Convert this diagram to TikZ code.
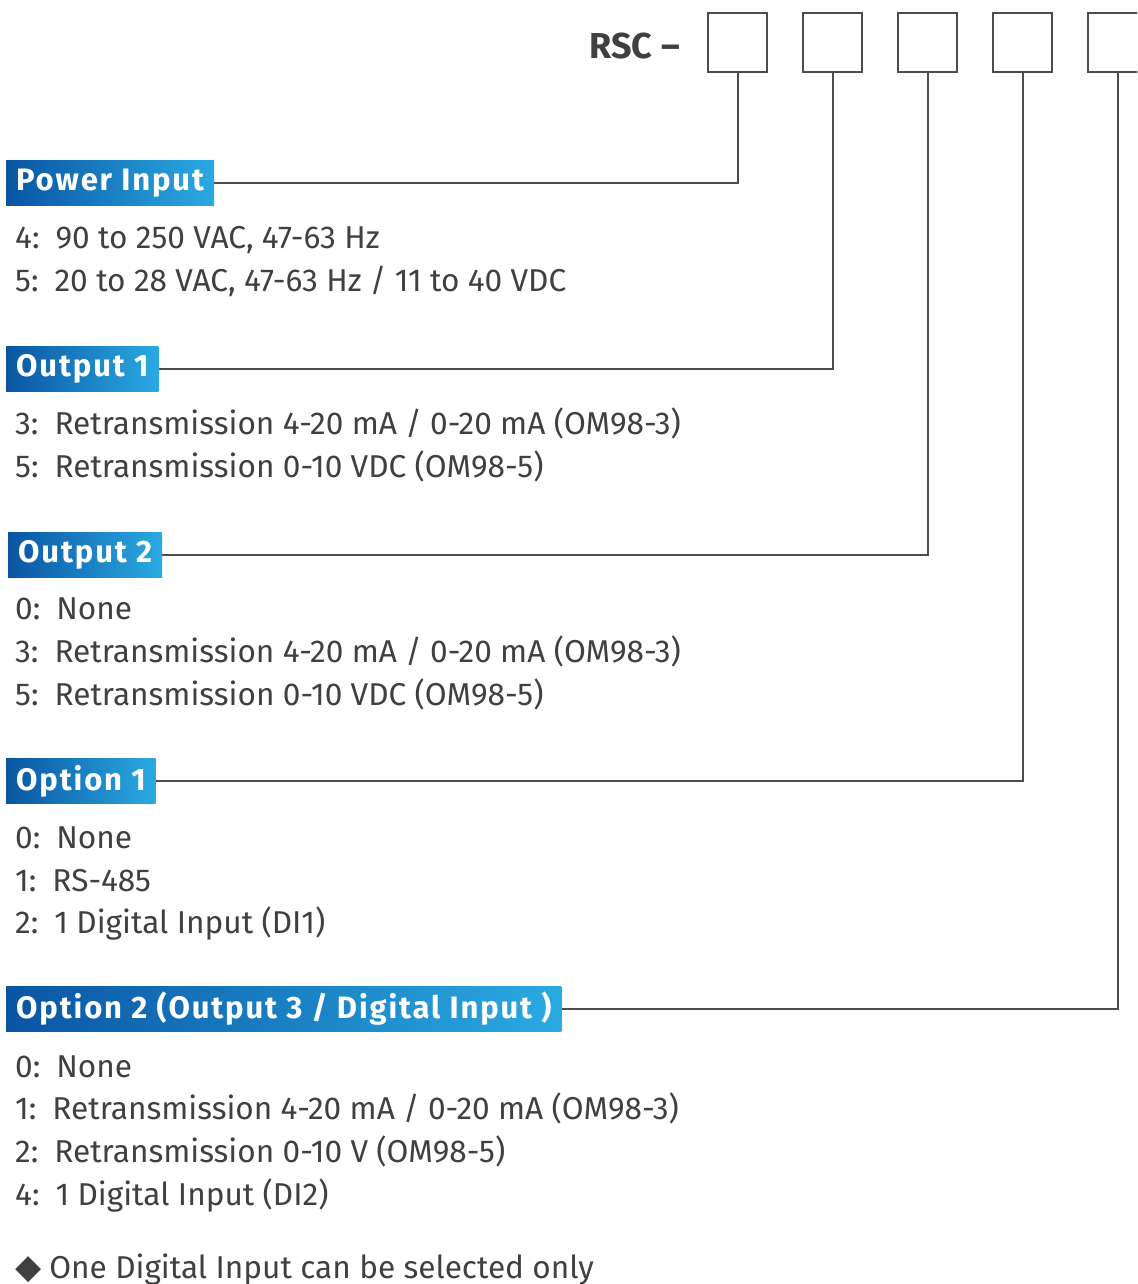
\documentclass[tikz,border=0pt]{standalone}
\usepackage{fontspec}
\setmainfont{Fira Sans}
\newfontfamily\symfont{DejaVu Sans}
\newfontfamily\hdrfont[LetterSpace=6]{Fira Sans}
\usetikzlibrary{positioning}

\definecolor{txtgray}{HTML}{404040}
\definecolor{linegray}{HTML}{4D4D4D}
\definecolor{hdrdark}{HTML}{0A55A3}
\definecolor{hdrlight}{HTML}{2AAAE2}

\newcommand{\optitem}[2]{#1:\hspace{16pt}#2}

\tikzset{
  codebox/.style={draw=linegray, line width=2pt, minimum width=59pt, minimum height=59pt, anchor=north west, inner sep=0pt},
  header/.style={anchor=west, left color=hdrdark, right color=hdrlight, text=white,
    font=\fontsize{31}{36}\hdrfont\bfseries, minimum height=45pt, inner xsep=10pt, inner ysep=0pt},
  optline/.style={anchor=base west, text=txtgray, font=\fontsize{31.6}{38}\selectfont, inner sep=0pt},
  link/.style={draw=linegray, line width=2pt}
}

\begin{document}
\begin{tikzpicture}[x=1pt, y=-1pt]
  \clip (0,0) rectangle (1137,1284);
  \fill[white] (0,0) rectangle (1137,1284);

  % code boxes
  \node[anchor=east, text=txtgray, font=\fontsize{36}{40}\selectfont\bfseries, inner sep=0pt] (rsc) at (680,46) {RSC --};
  \node[codebox] (box1) at (707,12) {};
  \node[codebox] (box2) at (802,12) {};
  \node[codebox] (box3) at (897,12) {};
  \node[codebox] (box4) at (992,12) {};
  \node[codebox] (box5) at (1087,12) {};

  % headers
  \node[header] (hdr1) at (6,183) {Power Input};
  \node[header] (hdr2) at (6,369) {Output 1};
  \node[header] (hdr3) at (8,555) {Output 2};
  \node[header] (hdr4) at (6,781) {Option 1};
  \node[header] (hdr5) at (6,1009) {Option 2 (Output 3 / Digital Input )};

  \draw[link] (hdr1.east) -| (box1.south);
  \draw[link] (hdr2.east) -| (box2.south);
  \draw[link] (hdr3.east) -| (box3.south);
  \draw[link] (hdr4.east) -| (box4.south);
  \draw[link] (hdr5.east) -| (box5.south);

  % option lines
  \node[optline] (pw1) at (15,248) {\optitem{4}{90 to 250 VAC, 47-63 Hz}};
  \node[optline] (pw2) at (15,291) {\optitem{5}{20 to 28 VAC, 47-63 Hz / 11 to 40 VDC}};

  \node[optline] (oa1) at (15,434) {\optitem{3}{Retransmission 4-20 mA / 0-20 mA (OM98-3)}};
  \node[optline] (oa2) at (15,477) {\optitem{5}{Retransmission 0-10 VDC (OM98-5)}};

  \node[optline] (ob1) at (15,619) {\optitem{0}{None}};
  \node[optline] (ob2) at (15,662) {\optitem{3}{Retransmission 4-20 mA / 0-20 mA (OM98-3)}};
  \node[optline] (ob3) at (15,705) {\optitem{5}{Retransmission 0-10 VDC (OM98-5)}};

  \node[optline] (pa1) at (15,848) {\optitem{0}{None}};
  \node[optline] (pa2) at (15,891) {\optitem{1}{RS-485}};
  \node[optline] (pa3) at (15,933) {\optitem{2}{1 Digital Input (DI1)}};

  \node[optline] (pb1) at (15,1077) {\optitem{0}{None}};
  \node[optline] (pb2) at (15,1119) {\optitem{1}{Retransmission 4-20 mA / 0-20 mA (OM98-3)}};
  \node[optline] (pb3) at (15,1162) {\optitem{2}{Retransmission 0-10 V (OM98-5)}};
  \node[optline] (pb4) at (15,1205) {\optitem{4}{1 Digital Input (DI2)}};

  \node[optline] (note) at (15,1278) {{\symfont\fontsize{34}{38}\selectfont ◆}\hspace{8pt}One Digital Input can be selected only};
\end{tikzpicture}
\end{document}
